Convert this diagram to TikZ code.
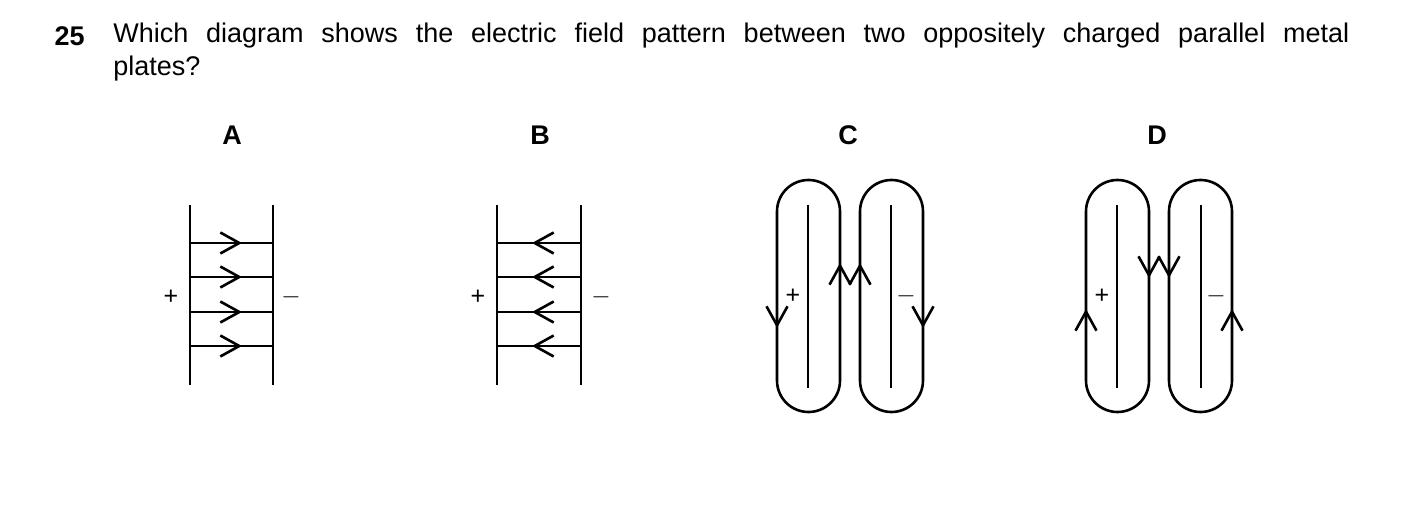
\documentclass[tikz,border=0pt]{standalone}
\usepackage{fontspec}
\setmainfont{Liberation Sans}
\usetikzlibrary{arrows.meta}
\tikzset{l/.style={font=\fontsize{27}{33}\selectfont}}
\tikzset{m/.style={font=\fontsize{25}{25}\selectfont}}
\tikzset{fa/.style={-{Straight Barb[length=19pt,width=21pt,line width=2.6pt]}}}
\newcommand{\plate}[3]{\draw (#1,#2) -- (#1,#3);}

\begin{document}
\begin{tikzpicture}[x=1pt,y=-1pt,line width=2.6pt]
    \useasboundingbox (0,0) rectangle (1403,505);
    \node[l, anchor=base west, font=\fontsize{27}{33}\selectfont\bfseries] (num) at (50,46) {25};
    \node[l, anchor=north west, text width=1236pt, align=justify, inner sep=0pt] (q) at (112,22)
      {Which diagram shows the electric field pattern between two oppositely charged parallel metal\linebreak plates?};
    % labels
    \node[l, font=\fontsize{27}{27}\selectfont\bfseries] (lA) at (232,135) {A};
    \node[l, font=\fontsize{27}{27}\selectfont\bfseries] (lB) at (540,135) {B};
    \node[l, font=\fontsize{27}{27}\selectfont\bfseries] (lC) at (848,135) {C};
    \node[l, font=\fontsize{27}{27}\selectfont\bfseries] (lD) at (1157,135) {D};
    % A
    \plate{190}{205}{385} \plate{273}{205}{385}
    \foreach \y in {243,277,312,346} {
      \draw (190,\y) -- (273,\y);
      \draw[fa] (220,\y) -- (242,\y);
    }
    \node[m] (pA) at (171,297) {+};
    \node[m] (nA) at (291,297) {$-$};
    % B
    \plate{497}{205}{385} \plate{581}{205}{385}
    \foreach \y in {243,277,312,346} {
      \draw (497,\y) -- (581,\y);
      \draw[fa] (555,\y) -- (532,\y);
    }
    \node[m] (pB) at (478,297) {+};
    \node[m] (nB) at (601,297) {$-$};
    % C
    \draw[rounded corners=31.5pt] (777,180) rectangle (840,412);
    \draw[rounded corners=31.5pt] (860,180) rectangle (923,412);
    \plate{808}{205}{388} \plate{891}{205}{388}
    \draw[fa] (777,300) -- (777,328);
    \draw[fa] (840,290) -- (840,263);
    \draw[fa] (860,290) -- (860,263);
    \draw[fa] (923,300) -- (923,328);
    \node[m] (pC) at (793,296) {+};
    \node[m] (nC) at (906,296) {$-$};
    % D
    \draw[rounded corners=31.5pt] (1086,180) rectangle (1149,412);
    \draw[rounded corners=31.5pt] (1169,180) rectangle (1232,412);
    \plate{1117}{205}{388} \plate{1201}{205}{388}
    \draw[fa] (1086,337) -- (1086,309);
    \draw[fa] (1149,250) -- (1149,278);
    \draw[fa] (1169,250) -- (1169,278);
    \draw[fa] (1232,337) -- (1232,309);
    \node[m] (pD) at (1102,296) {+};
    \node[m] (nD) at (1216,296) {$-$};
\end{tikzpicture}
\end{document}
